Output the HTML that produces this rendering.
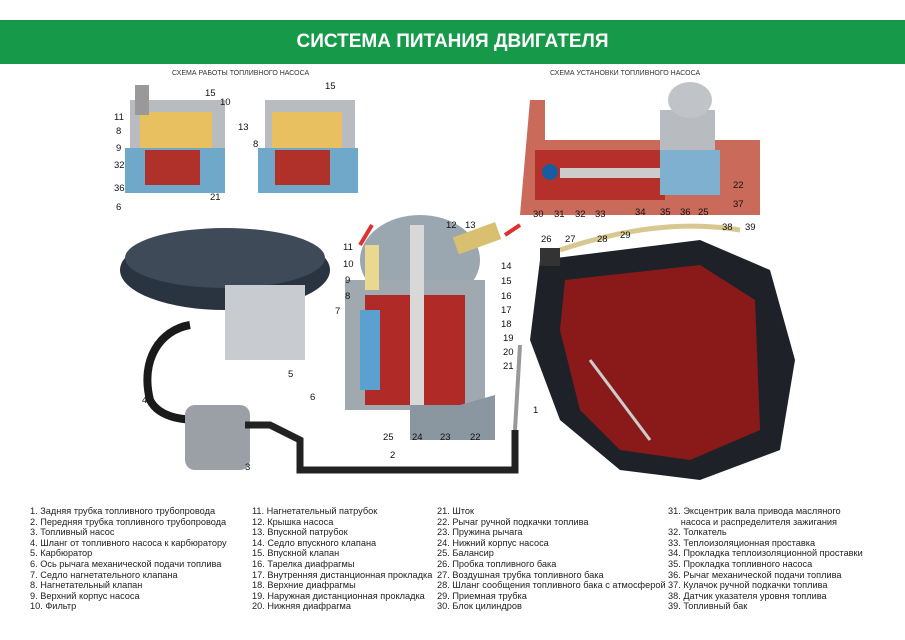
<!DOCTYPE html>
<html><head><meta charset="utf-8"><style>
body{margin:0;width:905px;height:640px;background:#fff;position:relative;overflow:hidden;font-family:"Liberation Sans",sans-serif}
.hdr{position:absolute;left:0;top:20px;width:905px;height:44px;background:#17994a;color:#fff;font-weight:bold;font-size:19px;text-align:center;line-height:44px}
.col{position:absolute;top:506px;font-size:9.2px;line-height:10.6px;color:#222;white-space:nowrap}
.lbl{position:absolute;font-size:9.5px;color:#111}
.cap{position:absolute;font-size:7px;color:#333}
</style></head><body>
<div class="hdr">СИСТЕМА ПИТАНИЯ ДВИГАТЕЛЯ</div>
<div class="cap" style="left:172px;top:70px">СХЕМА РАБОТЫ ТОПЛИВНОГО НАСОСА</div>
<div class="cap" style="left:550px;top:70px">СХЕМА УСТАНОВКИ ТОПЛИВНОГО НАСОСА</div>
<svg width="905" height="640" style="position:absolute;left:0;top:0">
<!-- top-left pumps -->
<g>
<rect x="130" y="100" width="95" height="50" fill="#b8bcc0"/><rect x="140" y="112" width="72" height="36" fill="#e8c060"/>
<rect x="125" y="148" width="100" height="45" fill="#6fa8c8"/><rect x="145" y="150" width="55" height="35" fill="#b0302a"/>
<rect x="135" y="85" width="14" height="30" fill="#999"/>
<rect x="265" y="100" width="90" height="50" fill="#b8bcc0"/><rect x="272" y="112" width="70" height="36" fill="#e8c060"/>
<rect x="258" y="148" width="100" height="45" fill="#6fa8c8"/><rect x="275" y="150" width="55" height="35" fill="#b0302a"/>
</g>
<!-- top-right engine -->
<path d="M530 100 L545 100 L545 140 L760 140 L760 215 L520 215 Z" fill="#c96a5a"/>
<rect x="535" y="150" width="130" height="50" fill="#b5302a"/>
<rect x="560" y="168" width="100" height="10" fill="#ccc"/>
<circle cx="550" cy="172" r="8" fill="#1a5ca0"/>
<rect x="660" y="110" width="55" height="45" fill="#b8bcc0"/><ellipse cx="690" cy="100" rx="22" ry="18" fill="#c0c4c8"/>
<rect x="660" y="150" width="60" height="45" fill="#7fb0d0"/>
<!-- air filter -->
<ellipse cx="225" cy="270" rx="105" ry="40" fill="#2a3440"/>
<ellipse cx="225" cy="258" rx="100" ry="30" fill="#3e4a58"/>
<rect x="225" y="285" width="80" height="75" fill="#c8ccd0"/>
<path d="M190 325 C160 330 140 360 150 400 C160 420 190 420 200 420" stroke="#1a1a1a" stroke-width="8" fill="none"/>
<!-- small pump -->
<rect x="185" y="405" width="65" height="65" rx="10" fill="#9aa0a6"/>
<path d="M245 425 L270 425 L300 440 L300 470 L515 470 L515 430" stroke="#222" stroke-width="7" fill="none"/>
<!-- central pump -->
<ellipse cx="420" cy="260" rx="60" ry="45" fill="#9aa6b0"/>
<rect x="345" y="280" width="140" height="130" fill="#a0a8b0"/>
<rect x="365" y="295" width="100" height="110" fill="#b02a28"/>
<rect x="360" y="310" width="20" height="80" fill="#5aa0d0"/>
<rect x="410" y="225" width="14" height="180" fill="#d8d8d8"/>
<rect x="455" y="230" width="45" height="18" fill="#d8c070" transform="rotate(-20 475 240)"/>
<rect x="365" y="245" width="14" height="45" fill="#e8d890"/>
<path d="M410 405 L460 405 L495 395 L495 440 L410 440 Z" fill="#8a96a0"/>
<path d="M520 345 L515 430" stroke="#999" stroke-width="4"/>
<!-- tank -->
<path d="M540 260 L700 240 L770 270 L795 360 L780 450 L700 480 L620 470 L560 420 L530 340 Z" fill="#1e2228"/>
<path d="M565 280 L700 265 L755 300 L760 430 L690 460 L620 450 L580 410 L560 330 Z" fill="#8a1a1a"/>
<path d="M560 250 C620 230 680 220 740 230" stroke="#d8c890" stroke-width="5" fill="none"/>
<rect x="540" y="248" width="20" height="18" fill="#333"/>
<path d="M590 360 L650 440" stroke="#ccc" stroke-width="3"/>
<path d="M360 245 L372 225" stroke="#e03030" stroke-width="4"/>
<path d="M505 235 L520 225" stroke="#e03030" stroke-width="4"/>
</svg>
<div class="lbl" style="left:114px;top:112px">11</div><div class="lbl" style="left:116px;top:126px">8</div>
<div class="lbl" style="left:116px;top:143px">9</div><div class="lbl" style="left:114px;top:160px">32</div>
<div class="lbl" style="left:114px;top:183px">36</div><div class="lbl" style="left:116px;top:202px">6</div>
<div class="lbl" style="left:205px;top:88px">15</div><div class="lbl" style="left:220px;top:97px">10</div>
<div class="lbl" style="left:238px;top:122px">13</div><div class="lbl" style="left:210px;top:192px">21</div>
<div class="lbl" style="left:325px;top:81px">15</div><div class="lbl" style="left:253px;top:139px">8</div>
<div class="lbl" style="left:533px;top:209px">30</div><div class="lbl" style="left:554px;top:209px">31</div>
<div class="lbl" style="left:575px;top:209px">32</div><div class="lbl" style="left:595px;top:209px">33</div>
<div class="lbl" style="left:635px;top:207px">34</div><div class="lbl" style="left:660px;top:207px">35</div>
<div class="lbl" style="left:680px;top:207px">36</div><div class="lbl" style="left:698px;top:207px">25</div>
<div class="lbl" style="left:733px;top:180px">22</div><div class="lbl" style="left:733px;top:199px">37</div>
<div class="lbl" style="left:541px;top:234px">26</div><div class="lbl" style="left:565px;top:234px">27</div>
<div class="lbl" style="left:597px;top:234px">28</div><div class="lbl" style="left:620px;top:230px">29</div>
<div class="lbl" style="left:722px;top:222px">38</div><div class="lbl" style="left:745px;top:222px">39</div>
<div class="lbl" style="left:446px;top:220px">12</div><div class="lbl" style="left:465px;top:220px">13</div>
<div class="lbl" style="left:343px;top:242px">11</div><div class="lbl" style="left:343px;top:259px">10</div>
<div class="lbl" style="left:345px;top:275px">9</div><div class="lbl" style="left:345px;top:291px">8</div>
<div class="lbl" style="left:335px;top:306px">7</div><div class="lbl" style="left:501px;top:261px">14</div>
<div class="lbl" style="left:501px;top:276px">15</div><div class="lbl" style="left:501px;top:291px">16</div>
<div class="lbl" style="left:501px;top:305px">17</div><div class="lbl" style="left:501px;top:319px">18</div>
<div class="lbl" style="left:503px;top:333px">19</div><div class="lbl" style="left:503px;top:347px">20</div>
<div class="lbl" style="left:503px;top:361px">21</div><div class="lbl" style="left:533px;top:405px">1</div>
<div class="lbl" style="left:288px;top:369px">5</div><div class="lbl" style="left:142px;top:395px">4</div>
<div class="lbl" style="left:245px;top:462px">3</div><div class="lbl" style="left:390px;top:450px">2</div>
<div class="lbl" style="left:310px;top:392px">6</div><div class="lbl" style="left:383px;top:432px">25</div>
<div class="lbl" style="left:412px;top:432px">24</div><div class="lbl" style="left:440px;top:432px">23</div>
<div class="lbl" style="left:470px;top:432px">22</div>
<div class="col" style="left:30px">1. Задняя трубка топливного трубопровода<br>2. Передняя трубка топливного трубопровода<br>3. Топливный насос<br>4. Шланг от топливного насоса к карбюратору<br>5. Карбюратор<br>6. Ось рычага механической подачи топлива<br>7. Седло нагнетательного клапана<br>8. Нагнетательный клапан<br>9. Верхний корпус насоса<br>10. Фильтр</div>
<div class="col" style="left:252px">11. Нагнетательный патрубок<br>12. Крышка насоса<br>13. Впускной патрубок<br>14. Седло впускного клапана<br>15. Впускной клапан<br>16. Тарелка диафрагмы<br>17. Внутренняя дистанционная прокладка<br>18. Верхние диафрагмы<br>19. Наружная дистанционная прокладка<br>20. Нижняя диафрагма</div>
<div class="col" style="left:437px">21. Шток<br>22. Рычаг ручной подкачки топлива<br>23. Пружина рычага<br>24. Нижний корпус насоса<br>25. Балансир<br>26. Пробка топливного бака<br>27. Воздушная трубка топливного бака<br>28. Шланг сообщения топливного бака с атмосферой<br>29. Приемная трубка<br>30. Блок цилиндров</div>
<div class="col" style="left:668px">31. Эксцентрик вала привода масляного<br>&nbsp;&nbsp;&nbsp;&nbsp;&nbsp;насоса и распределителя зажигания<br>32. Толкатель<br>33. Теплоизоляционная проставка<br>34. Прокладка теплоизоляционной проставки<br>35. Прокладка топливного насоса<br>36. Рычаг механической подачи топлива<br>37. Кулачок ручной подкачки топлива<br>38. Датчик указателя уровня топлива<br>39. Топливный бак</div>
</body></html>
